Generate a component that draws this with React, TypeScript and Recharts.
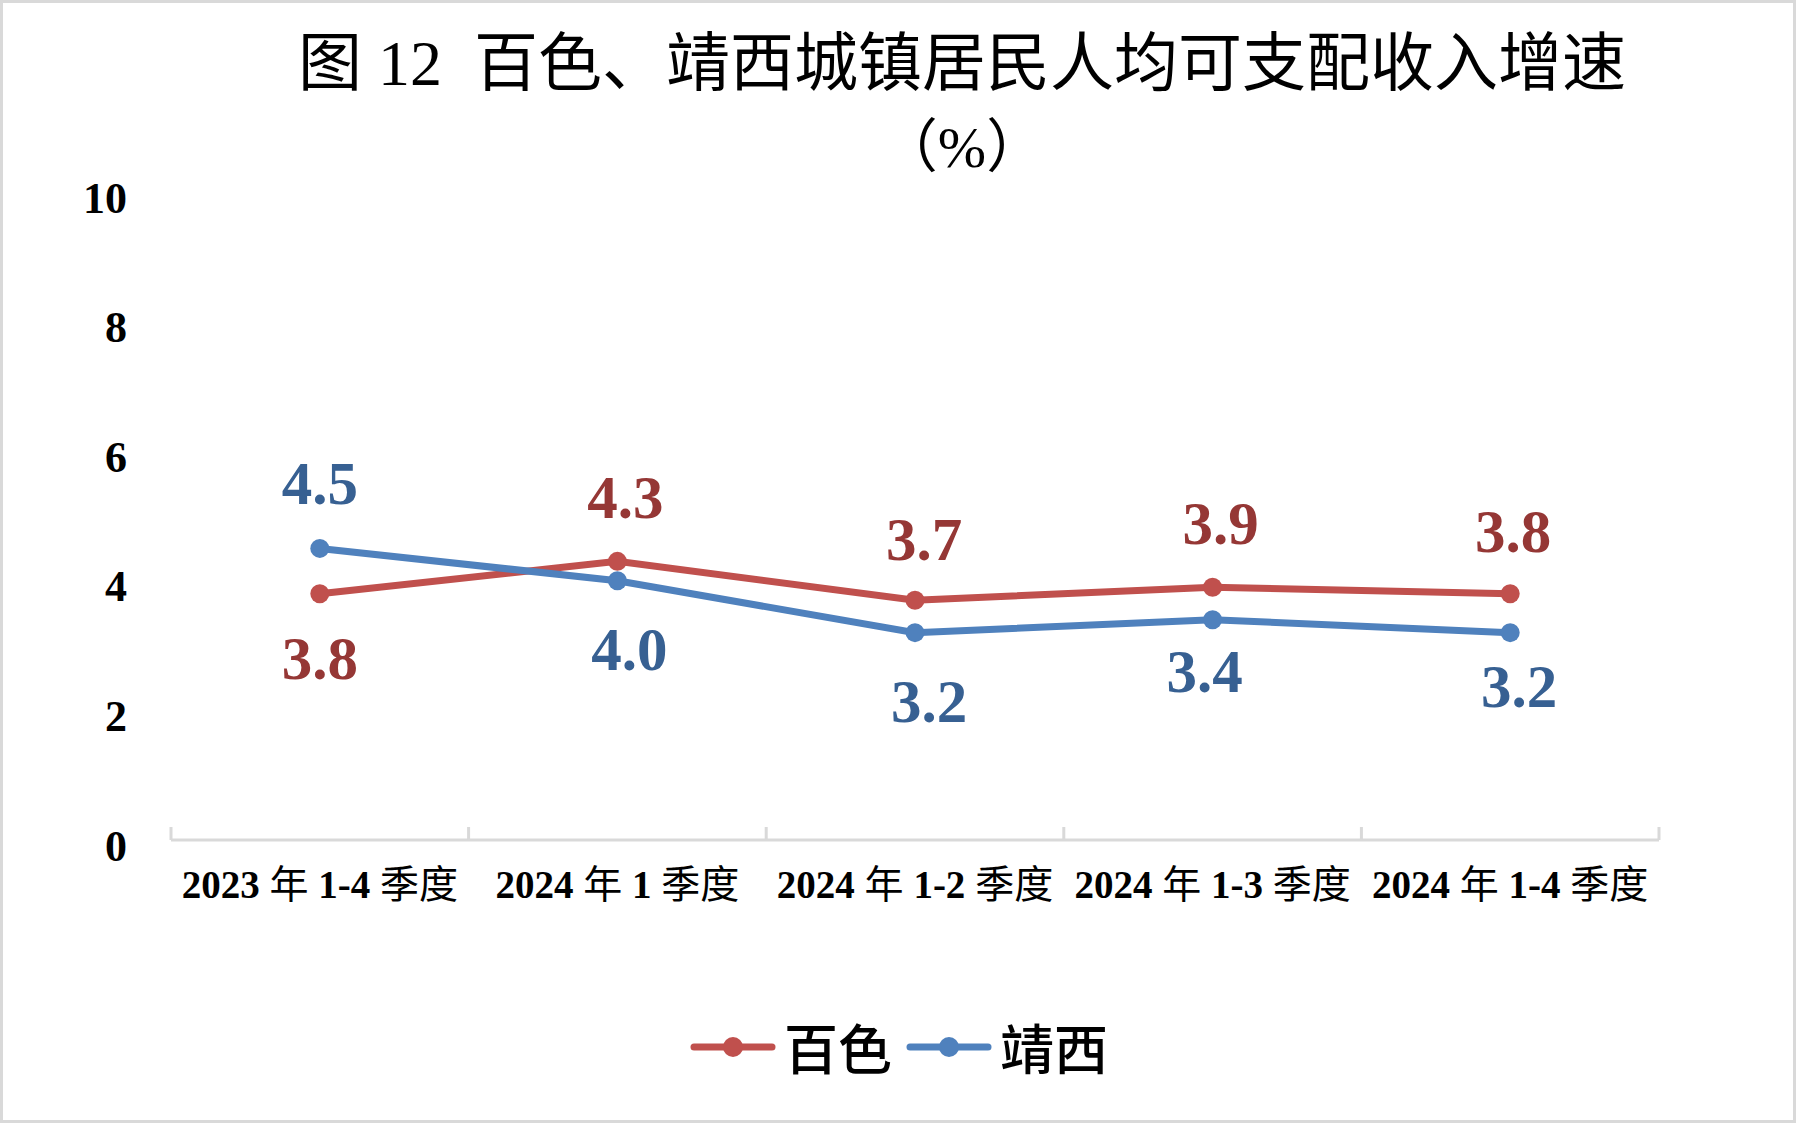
import React from "react";
import { LineChart, Line, XAxis, YAxis, LabelList, Legend } from "recharts";

const categories = [
  "2023 年 1-4 季度",
  "2024 年 1 季度",
  "2024 年 1-2 季度",
  "2024 年 1-3 季度",
  "2024 年 1-4 季度",
];
const baise = [3.8, 4.3, 3.7, 3.9, 3.8];
const jingxi = [4.5, 4.0, 3.2, 3.4, 3.2];
const yTicks = [0, 2, 4, 6, 8, 10];

const titleText = "图 12  百色、靖西城镇居民人均可支配收入增速";
const unitText = "（%）";

// label placement relative to each point (layout only)
const baiseLabelOffsets = [
  [0, 65],
  [8, -64],
  [9, -61],
  [8, -64],
  [3, -62],
];
const jingxiLabelOffsets = [
  [0, -65],
  [12, 69],
  [14, 69],
  [-8, 52],
  [9, 54],
];

const RED = "#C0504D";
const BLUE = "#4F81BD";
const RED_DARK = "#953735";
const BLUE_DARK = "#376092";
const SERIF = "'Liberation Serif', 'Noto Sans CJK SC', serif";

const data = categories.map((name, i) => ({
  idx: i,
  name,
  baise: baise[i],
  jingxi: jingxi[i],
}));

// category centres get labels, half steps get the small boundary tick marks
const xTicks: number[] = [];
for (let i = 0; i <= categories.length; i++) {
  xTicks.push(i - 0.5);
  if (i < categories.length) xTicks.push(i);
}

function XTick(props: any) {
  const { x, y, payload } = props;
  const v = payload.value;
  if (!Number.isInteger(v)) {
    return <line x1={x} x2={x} y1={y} y2={y - 13} stroke="#D9D9D9" strokeWidth={3} />;
  }
  const parts = categories[v].split(/([\d-]+)/).filter((s) => s !== "");
  return (
    <text
      x={x}
      y={y + 44}
      textAnchor="middle"
      dominantBaseline="central"
      fontFamily={SERIF}
      fontSize={39}
      fill="#000"
    >
      {parts.map((p, i) => (
        <tspan key={i} fontWeight={/\d/.test(p) ? "bold" : "normal"}>
          {p}
        </tspan>
      ))}
    </text>
  );
}

function YTick(props: any) {
  const { x, y, payload } = props;
  return (
    <text
      x={x}
      y={y + 6}
      textAnchor="end"
      dominantBaseline="central"
      fontFamily={SERIF}
      fontWeight="bold"
      fontSize={44}
      fill="#000"
    >
      {payload.value}
    </text>
  );
}

function makeLabel(offsets: number[][], color: string) {
  return (props: any) => {
    const px = props.x ?? props.viewBox?.x;
    const py = props.y ?? props.viewBox?.y;
    const off = offsets[props.index] ?? [0, 0];
    return (
      <text
        x={px + off[0]}
        y={py + off[1]}
        textAnchor="middle"
        dominantBaseline="central"
        fontFamily={SERIF}
        fontWeight="bold"
        fontSize={61}
        fill={color}
      >
        {Number(props.value).toFixed(1)}
      </text>
    );
  };
}

function LegendContent(props: any) {
  const items = props.payload ?? [];
  return (
    <div style={{ display: "flex", alignItems: "center" }}>
      {items.map((p: any, i: number) => (
        <div key={i} style={{ display: "flex", alignItems: "center", marginRight: 14 }}>
          <svg width={86} height={24}>
            <line x1={4} x2={82} y1={12} y2={12} stroke={p.color} strokeWidth={7} strokeLinecap="round" />
            <circle cx={43} cy={12} r={10} fill={p.color} />
          </svg>
          <span
            style={{
              marginLeft: 8,
              fontSize: 54,
              fontFamily: "'Noto Sans CJK SC', sans-serif",
              fontWeight: 500,
              color: "#000",
              lineHeight: 1,
            }}
          >
            {p.value}
          </span>
        </div>
      ))}
    </div>
  );
}

export default function App() {
  return (
    <div
      style={{
        position: "absolute",
        left: 0,
        top: 0,
        width: 1800,
        height: 1129,
        background: "#fff",
        overflow: "hidden",
      }}
    >
      <div
        style={{
          position: "absolute",
          left: 0,
          top: 0,
          width: 1796,
          height: 1123,
          border: "3px solid #D9D9D9",
          boxSizing: "border-box",
        }}
      />
      <div
        style={{
          position: "absolute",
          left: 0,
          width: 1924,
          top: 28,
          textAlign: "center",
          fontFamily: SERIF,
          fontSize: 64,
          lineHeight: "72px",
          whiteSpace: "pre",
          color: "#000",
        }}
      >
        {titleText}
      </div>
      <div
        style={{
          position: "absolute",
          left: 0,
          width: 1924,
          top: 113,
          textAlign: "center",
          fontFamily: SERIF,
          fontSize: 58,
          lineHeight: "70px",
          color: "#000",
        }}
      >
        {unitText}
      </div>
      <LineChart
        width={1800}
        height={1129}
        data={data}
        margin={{ top: 192, right: 141, bottom: 229, left: 0 }}
        style={{ position: "absolute", left: 0, top: 0 }}
      >
        <XAxis
          type="number"
          dataKey="idx"
          domain={[-0.5, categories.length - 0.5]}
          ticks={xTicks}
          interval={0}
          height={60}
          tickSize={0}
          tickMargin={0}
          tickLine={false}
          axisLine={{ stroke: "#D9D9D9", strokeWidth: 3 }}
          tick={<XTick />}
        />
        <YAxis
          type="number"
          domain={[0, 10]}
          ticks={yTicks}
          width={171}
          tickSize={0}
          tickMargin={44}
          tickLine={false}
          axisLine={false}
          tick={<YTick />}
        />
        <Legend
          layout="horizontal"
          verticalAlign="middle"
          align="center"
          wrapperStyle={{ left: 690, top: 1020, width: 520, height: 60 }}
          content={<LegendContent />}
        />
        <Line
          dataKey="baise"
          name="百色"
          stroke={RED}
          strokeWidth={7}
          dot={{ r: 9.5, fill: RED, stroke: RED, strokeWidth: 0 }}
          activeDot={false}
          isAnimationActive={false}
        >
          <LabelList dataKey="baise" content={makeLabel(baiseLabelOffsets, RED_DARK)} />
        </Line>
        <Line
          dataKey="jingxi"
          name="靖西"
          stroke={BLUE}
          strokeWidth={7}
          dot={{ r: 9.5, fill: BLUE, stroke: BLUE, strokeWidth: 0 }}
          activeDot={false}
          isAnimationActive={false}
        >
          <LabelList dataKey="jingxi" content={makeLabel(jingxiLabelOffsets, BLUE_DARK)} />
        </Line>
      </LineChart>
    </div>
  );
}
